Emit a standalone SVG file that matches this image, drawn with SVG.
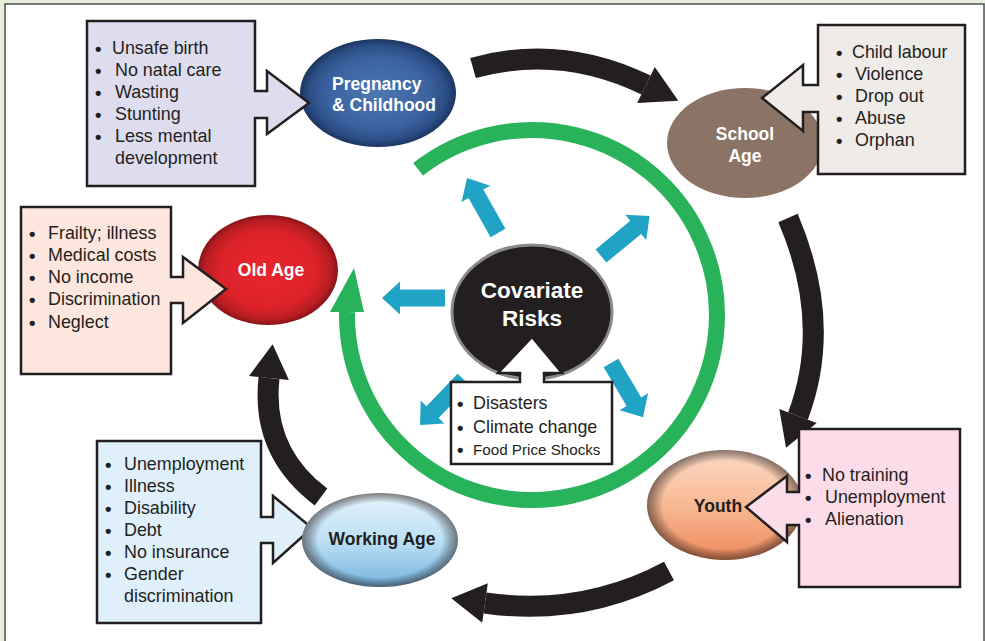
<svg xmlns="http://www.w3.org/2000/svg" width="985" height="641" viewBox="0 0 985 641">
<defs>
<style>
.t{font-family:"Liberation Sans",Arial,sans-serif;font-size:17.9px;fill:#231f20}
.t .u{font-size:18.5px;font-weight:bold}
.b{font-family:"Liberation Sans",Arial,sans-serif;font-size:17.5px;font-weight:bold}
.w{fill:#ffffff}
.d{fill:#231f20}
.box{stroke:#231f20;stroke-width:2.5;stroke-linejoin:miter}
.blk{fill:none;stroke:#231f20;stroke-width:21}
.hd{fill:#231f20}
.blue{fill:#21a3c5}
</style>
<radialGradient id="gPreg" cx="0.5" cy="0.5" r="0.5">
<stop offset="0" stop-color="#4b77b0"/><stop offset="0.65" stop-color="#3c63a0"/><stop offset="0.88" stop-color="#2c4d85"/><stop offset="1" stop-color="#1b3560"/>
</radialGradient>
<radialGradient id="gOld" cx="0.5" cy="0.5" r="0.5">
<stop offset="0" stop-color="#e8262e"/><stop offset="0.7" stop-color="#dc2229"/><stop offset="0.9" stop-color="#b81d23"/><stop offset="1" stop-color="#881418"/>
</radialGradient>
<linearGradient id="gWork" x1="0" y1="0" x2="0" y2="1">
<stop offset="0" stop-color="#e4f3fb"/><stop offset="0.5" stop-color="#bde0f4"/><stop offset="1" stop-color="#74b3df"/>
</linearGradient>
<linearGradient id="gYouth" x1="0" y1="0" x2="0" y2="1">
<stop offset="0" stop-color="#fbdac6"/><stop offset="0.5" stop-color="#f7b993"/><stop offset="1" stop-color="#ee8a5c"/>
</linearGradient>
<radialGradient id="gRim" cx="0.5" cy="0.5" r="0.5">
<stop offset="0" stop-color="#000" stop-opacity="0"/><stop offset="0.8" stop-color="#000" stop-opacity="0"/><stop offset="1" stop-color="#2a1e1e" stop-opacity="0.55"/>
</radialGradient>
<path id="ba" d="M0,-8.5 H45 V-16.5 L63,0 L45,16.5 V8.5 H0 Z"/>
</defs>

<rect x="0" y="0" width="985" height="641" fill="#e6f0dc"/>
<rect x="5" y="4" width="979" height="660" fill="#ffffff" stroke="#4d4d4d" stroke-width="1.5"/>

<g id="ring">
<path d="M418.1,169.2 A185,185 0 1 1 347,312" fill="none" stroke="#28b35a" stroke-width="16"/>
<path d="M330,312 L354,268 L364,312 Z" fill="#28b35a"/>
</g>

<g id="connectors">
<path class="blk" d="M473,68 Q561,43.5 646,85"/>
<path class="hd" d="M654.8,67 L678.3,100.8 L637.2,103 Z"/>
<path class="blk" d="M788,218 Q833,323 798,416"/>
<path class="hd" d="M816.7,423 L786,447.8 L779.3,409 Z"/>
<path class="blk" d="M669,571 Q583,617 485,603"/>
<path class="hd" d="M487.8,583.2 L451.3,598.2 L482.2,622.8 Z"/>
<path class="blk" d="M321,497 Q261,452 269,378"/>
<path class="hd" d="M288.9,380.1 L272.6,344.2 L249.1,375.9 Z"/>
</g>

<g id="risk-arrows" class="blue">
<use href="#ba" transform="translate(498,233) rotate(240.6)"/>
<use href="#ba" transform="translate(601,256) rotate(-39.5)"/>
<use href="#ba" transform="translate(445,298) rotate(180)"/>
<use href="#ba" transform="translate(463.8,379.7) rotate(134)"/>
<use href="#ba" transform="translate(611,363) rotate(59.4)"/>
</g>

<g id="pregnancy">
<ellipse cx="378" cy="93" rx="78" ry="54" fill="url(#gPreg)"/>
<text class="b w" x="332" y="90">Pregnancy</text>
<text class="b w" x="332" y="111">&amp; Childhood</text>
<path class="box" fill="#dedcef" d="M87,21 H255 V91 H267 V71 L309,103 L267,134 V118 H255 V186 H87 Z"/>
<text class="t"><tspan class="u" x="95" y="55">•</tspan><tspan x="112" y="54">Unsafe birth</tspan></text>
<text class="t"><tspan class="u" x="95" y="77">•</tspan><tspan x="115" y="76">No natal care</tspan></text>
<text class="t"><tspan class="u" x="95" y="99">•</tspan><tspan x="115" y="98">Wasting</tspan></text>
<text class="t"><tspan class="u" x="95" y="121">•</tspan><tspan x="115" y="120">Stunting</tspan></text>
<text class="t"><tspan class="u" x="95" y="143">•</tspan><tspan x="115" y="142">Less mental</tspan></text>
<text class="t" x="115" y="164">development</text>
</g>

<g id="school-age">
<ellipse cx="745" cy="143" rx="78" ry="55" fill="#8b7466"/>
<text class="b w" x="745" y="140" text-anchor="middle">School</text>
<text class="b w" x="745" y="162" text-anchor="middle">Age</text>
<path class="box" fill="#efebe9" d="M818,25 H965 V174 H818 V112 H803 V131 L762,98 L803,65 V85 H818 Z"/>
<text class="t"><tspan class="u" x="836" y="59">•</tspan><tspan x="852" y="58">Child labour</tspan></text>
<text class="t"><tspan class="u" x="836" y="81">•</tspan><tspan x="855" y="80">Violence</tspan></text>
<text class="t"><tspan class="u" x="836" y="103">•</tspan><tspan x="855" y="102">Drop out</tspan></text>
<text class="t"><tspan class="u" x="836" y="125">•</tspan><tspan x="855" y="124">Abuse</tspan></text>
<text class="t"><tspan class="u" x="836" y="147">•</tspan><tspan x="855" y="146">Orphan</tspan></text>
</g>

<g id="old-age">
<ellipse cx="268" cy="270" rx="70" ry="55" fill="url(#gOld)"/>
<text class="b w" x="271" y="276" text-anchor="middle">Old Age</text>
<path class="box" fill="#fde6dd" d="M21,207 H171 V277 H183 V257 L226,289 L183,323 V303 H171 V374 H21 Z"/>
<text class="t"><tspan class="u" x="29" y="240">•</tspan><tspan x="48" y="239">Frailty; illness</tspan></text>
<text class="t"><tspan class="u" x="29" y="262">•</tspan><tspan x="48" y="261">Medical costs</tspan></text>
<text class="t"><tspan class="u" x="29" y="284">•</tspan><tspan x="48" y="283">No income</tspan></text>
<text class="t"><tspan class="u" x="29" y="306">•</tspan><tspan x="48" y="305">Discrimination</tspan></text>
<text class="t"><tspan class="u" x="29" y="329">•</tspan><tspan x="48" y="328">Neglect</tspan></text>
</g>

<g id="working-age">
<path class="box" fill="#dff0fb" d="M97,441 H261 V517 H273 V496 L312,528 L273,563 V543 H261 V623 H97 Z"/>
<text class="t"><tspan class="u" x="105" y="471">•</tspan><tspan x="124" y="470">Unemployment</tspan></text>
<text class="t"><tspan class="u" x="105" y="493">•</tspan><tspan x="124" y="492">Illness</tspan></text>
<text class="t"><tspan class="u" x="105" y="515">•</tspan><tspan x="124" y="514">Disability</tspan></text>
<text class="t"><tspan class="u" x="105" y="537">•</tspan><tspan x="124" y="536">Debt</tspan></text>
<text class="t"><tspan class="u" x="105" y="559">•</tspan><tspan x="124" y="558">No insurance</tspan></text>
<text class="t"><tspan class="u" x="105" y="581">•</tspan><tspan x="124" y="580">Gender</tspan></text>
<text class="t" x="124" y="602">discrimination</text>
<ellipse cx="380" cy="540" rx="78" ry="47" fill="url(#gWork)"/>
<ellipse cx="380" cy="540" rx="78" ry="47" fill="url(#gRim)"/>
<text class="b d" x="382" y="545" text-anchor="middle">Working Age</text>
</g>

<g id="youth">
<ellipse cx="725" cy="505" rx="78" ry="55" fill="url(#gYouth)"/>
<ellipse cx="725" cy="505" rx="78" ry="55" fill="url(#gRim)"/>
<text class="b d" x="718" y="512" text-anchor="middle">Youth</text>
<path class="box" fill="#fcdce9" d="M799,429 H960 V587 H799 V525 H787 V542 L746,507 L787,476 V492 H799 Z"/>
<text class="t"><tspan class="u" x="805" y="482">•</tspan><tspan x="822" y="481">No training</tspan></text>
<text class="t"><tspan class="u" x="805" y="504">•</tspan><tspan x="825" y="503">Unemployment</tspan></text>
<text class="t"><tspan class="u" x="805" y="526">•</tspan><tspan x="825" y="525">Alienation</tspan></text>
</g>

<g id="covariate-risks">
<ellipse cx="532" cy="312" rx="80" ry="67" fill="#231f20" stroke="#8a8a8a" stroke-width="3"/>
<text class="b w" x="532" y="298" text-anchor="middle" style="font-size:22.5px">Covariate</text>
<text class="b w" x="532" y="326" text-anchor="middle" style="font-size:22.5px">Risks</text>
<path class="box" fill="#ffffff" stroke-width="2" d="M451,382 H520 V373 H498 L532,337 L562,373 H544 V382 H612 V464 H451 Z"/>
<text class="t"><tspan class="u" x="457" y="410">•</tspan><tspan x="473" y="409">Disasters</tspan></text>
<text class="t"><tspan class="u" x="457" y="434">•</tspan><tspan x="473" y="433">Climate change</tspan></text>
<text class="t"><tspan class="u" x="457" y="456">•</tspan><tspan x="473" y="455" style="font-size:15.2px">Food Price Shocks</tspan></text>
</g>
</svg>
